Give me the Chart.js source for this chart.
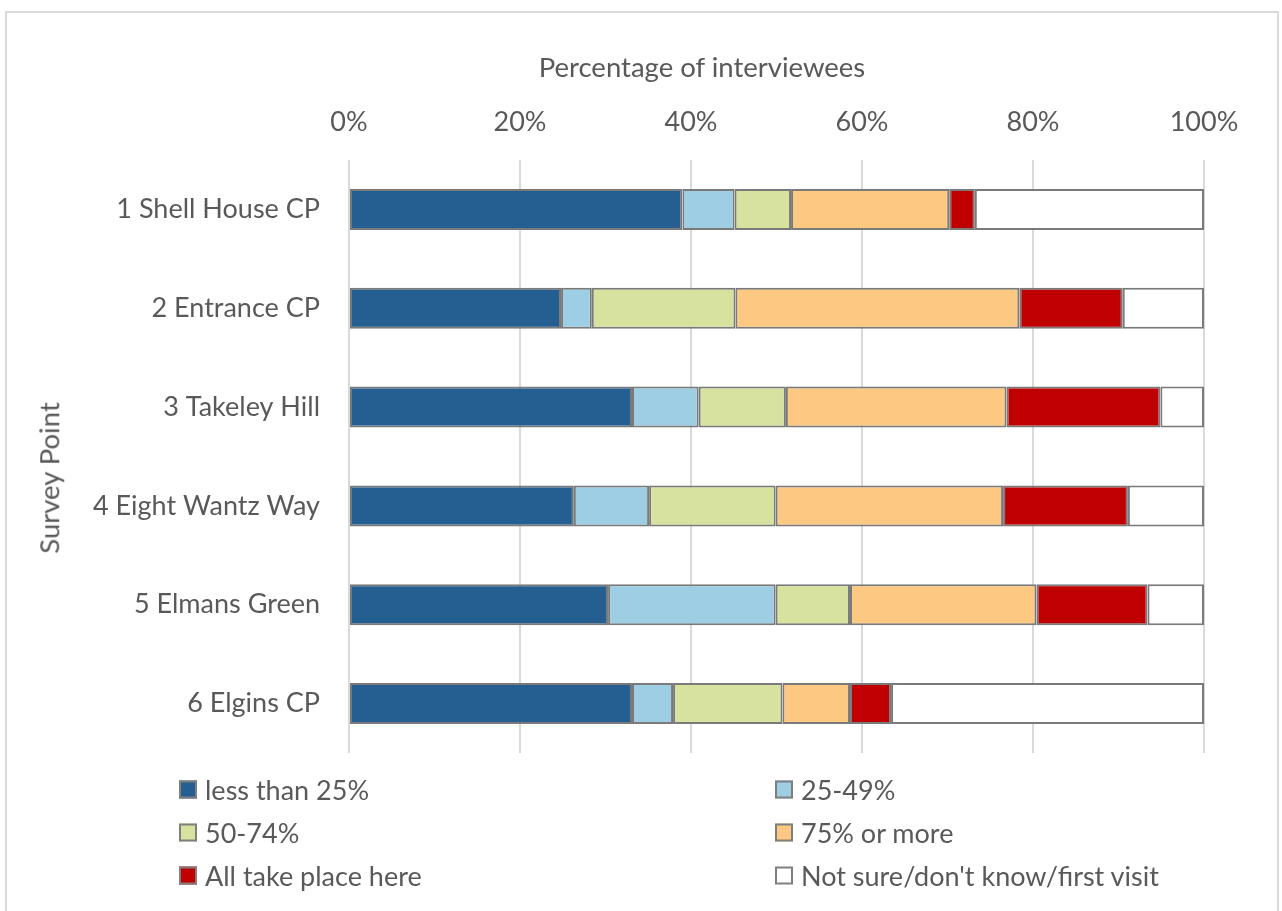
<!DOCTYPE html>
<html>
<head>
<meta charset="utf-8">
<title>Survey Point</title>
<script src="https://cdn.jsdelivr.net/npm/chart.js@4/dist/chart.umd.min.js"></script>
<style>
    html, body { margin: 0; padding: 0; background: #fff; overflow: hidden; }
    #wrap { position: relative; width: 1282px; height: 911px; font-family: Lato, sans-serif; color: #595959; }
    #frame { position: absolute; left: 5px; top: 11px; width: 1274px; height: 910px; border: 2px solid #d9d9d9; box-sizing: border-box; }
    #chart { position: absolute; left: 0; top: 0; }
    .axis-title { position: absolute; font-size: 27.5px; white-space: nowrap; line-height: 1; }
    #xTitle { left: 702px; top: 67px; transform: translate(-50%, -50%); }
    #yTitle { left: 49px; top: 478px; transform: translate(-50%, -50%) rotate(-90deg); }
    .legend-item { position: absolute; display: flex; align-items: center; font-size: 27px; white-space: nowrap; transform: translateY(-50%); }
    .legend-box { width: 14px; height: 14px; border: 2px solid #7f7f7f; margin-right: 8px; }
</style>
</head>
<body>
<div id="wrap">
    <div id="frame"></div>
    <canvas id="chart" width="1282" height="911"></canvas>
    <div class="axis-title" id="xTitle">Percentage of interviewees</div>
    <div class="axis-title" id="yTitle">Survey Point</div>
    <div id="legend"></div>
</div>
<script>
// Survey points (rows, top to bottom)
const surveyPoints = ['1 Shell House CP', '2 Entrance CP', '3 Takeley Hill', '4 Eight Wantz Way', '5 Elmans Green', '6 Elgins CP'];

// Share of interviewees (%) in each answer group
const lessThan25 = [39.0, 24.8, 33.1, 26.3, 30.3, 33.1];
const from25to49 = [6.1, 3.6, 7.8, 8.8, 19.6, 4.8];
const from50to74 = [6.6, 16.8, 10.2, 14.8, 8.7, 12.8];
const over75 = [18.5, 33.2, 25.8, 26.6, 21.8, 7.9];
const allHere = [3.0, 12.1, 18.0, 14.6, 13.0, 4.8];
const notSure = [26.8, 9.5, 5.1, 8.9, 6.6, 36.6];

const seriesNames = ['less than 25%', '25-49%', '50-74%', '75% or more', 'All take place here', "Not sure/don't know/first visit"];
const seriesColors = ['#255e91', '#9dcee3', '#d7e29f', '#fdc881', '#c00000', '#ffffff'];
const xTicks = [0, 20, 40, 60, 80, 100];

const textColor = '#595959';
const gridColor = '#d9d9d9';
const labelFont = { family: 'Lato', size: 27 };

const seriesValues = [lessThan25, from25to49, from50to74, over75, allHere, notSure];

const datasets = seriesValues.map(function(values, i) {
    return {
        label: seriesNames[i],
        data: values,
        backgroundColor: seriesColors[i],
        borderColor: '#7a7a7a',
        borderWidth: 2,
        borderSkipped: false,
        categoryPercentage: 1,
        barPercentage: 0.415
    };
});

const ctx = document.getElementById('chart');
const chart = new Chart(ctx, {
    type: 'bar',
    data: { labels: surveyPoints, datasets: datasets },
    options: {
        indexAxis: 'y',
        responsive: false,
        animation: false,
        layout: { padding: { top: 0, left: 0, right: 78, bottom: 158 } },
        plugins: {
            legend: { display: false },
            tooltip: { enabled: false }
        },
        scales: {
            x: {
                position: 'top',
                stacked: true,
                min: 0,
                max: 100,
                afterBuildTicks: function(scale) {
                    scale.ticks = xTicks.map(v => ({ value: v }));
                },
                afterFit: function(scale) { scale.height = 160; },
                ticks: {
                    color: textColor,
                    font: labelFont,
                    padding: 22,
                    callback: v => v + '%'
                },
                grid: { color: gridColor, lineWidth: 2, drawTicks: false },
                border: { display: false }
            },
            y: {
                stacked: true,
                afterFit: function(scale) { scale.width = 349; },
                ticks: { color: textColor, font: labelFont, padding: 21 },
                grid: { display: false },
                border: { display: false }
            }
        }
    }
});

// Two-column legend under the plot
const legend = document.getElementById('legend');
const legendCols = [179, 775];
const legendRows = [789, 832, 875];
chart.data.datasets.forEach(function(ds, i) {
    const item = document.createElement('div');
    item.className = 'legend-item';
    item.style.left = legendCols[i % 2] + 'px';
    item.style.top = legendRows[Math.floor(i / 2)] + 'px';
    const box = document.createElement('span');
    box.className = 'legend-box';
    box.style.background = ds.backgroundColor;
    const text = document.createElement('span');
    text.textContent = ds.label;
    item.appendChild(box);
    item.appendChild(text);
    legend.appendChild(item);
});
</script>
</body>
</html>
